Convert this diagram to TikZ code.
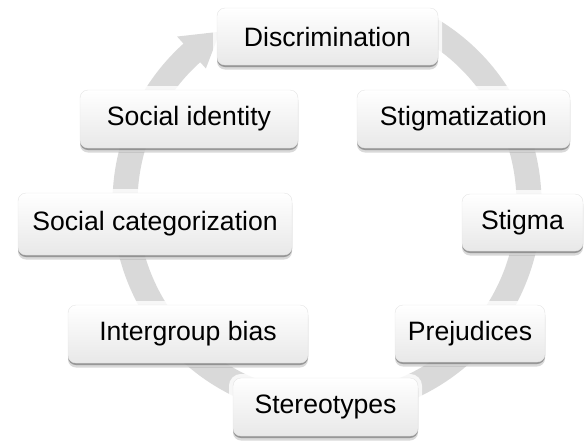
\documentclass[tikz,border=0pt]{standalone}
\usepackage{fontspec}
\setmainfont{Liberation Sans}
\usetikzlibrary{shadows}

\begin{document}
\begin{tikzpicture}[x=1pt,y=1pt,
  stagebox/.style={rounded corners=8pt,draw=black!10,top color=white,
                   bottom color=black!9,minimum height=57pt,inner sep=0pt,
                   font={\fontsize{26.6}{30}\selectfont},
                   preaction={draw=white,line width=8pt,opacity=.8},
                   drop shadow={shadow xshift=0pt,shadow yshift=-2pt,
                                opacity=.3,fill=black},
                   drop shadow={shadow xshift=0pt,shadow yshift=-4.5pt,
                                opacity=.15,fill=black}},
  ring/.style={fill=black!15}]
  \useasboundingbox (0,0) rectangle (584,-440);
  % The grey cycle arrow behind the stages, running clockwise.
  \begin{scope}[shift={(327,-203)}]
    \fill[ring] (62:214.5) arc[start angle=62,end angle=-228,radius=214.5]
      -- (-228:224) -- (-238:202) -- (-228:181) -- (-228:189.5)
      arc[start angle=-228,end angle=62,radius=189.5] -- cycle;
  \end{scope}

  % The stages.
  \node[stagebox,minimum width=221pt] (discr) at (327.5,-36.5) {Discrimination};
  \node[stagebox,minimum width=218pt,minimum height=58pt] (socid) at (189,-119) {Social identity};
  \node[stagebox,minimum width=213pt,minimum height=58pt] (stgmz) at (463.5,-119) {Stigmatization};
  \node[stagebox,minimum width=274pt,minimum height=62pt] (socat) at (155,-224) {Social categorization};
  \node[stagebox,minimum width=121pt] (stigma) at (522.5,-222.5) {Stigma};
  \node[stagebox,minimum width=240pt,minimum height=58pt] (ibias) at (188,-334) {Intergroup bias};
  \node[stagebox,minimum width=150pt] (prej) at (470,-333.5) {Prejudices};
  \node[stagebox,minimum width=185pt,minimum height=58pt] (stereo) at (325.5,-407) {Stereotypes};
\end{tikzpicture}
\end{document}
